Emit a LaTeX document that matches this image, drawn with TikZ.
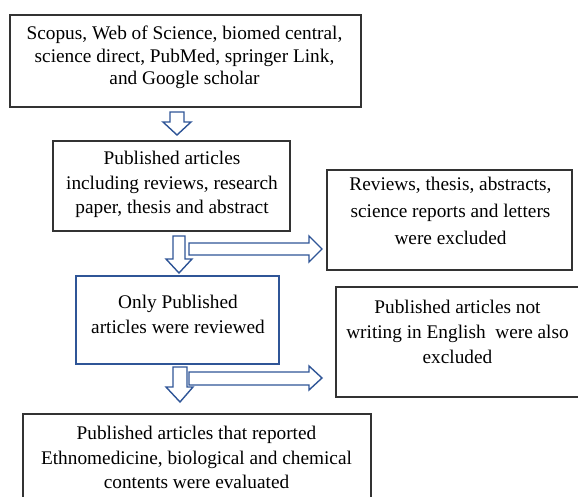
\documentclass[tikz,border=0pt]{standalone}
\usepackage{fontspec}
\setmainfont{Liberation Serif}
\usepackage{xcolor}

\definecolor{arrowblue}{HTML}{2F5597}
\definecolor{boxgray}{HTML}{333333}

\tikzset{
    box/.style={draw=boxgray, line width=1.3pt, fill=white},
    bluebox/.style={draw=arrowblue, line width=1.8pt, fill=white},
    txt/.style={align=center, inner sep=0pt, font=\fontsize{19.3}{#1}\selectfont},
    blockarrow/.style={draw=arrowblue, line width=1.4pt, fill=white, line join=miter}
}

\begin{document}
\begin{tikzpicture}[x=1pt, y=-1pt]
    \useasboundingbox (0,0) rectangle (578,497);
    \clip (0,0) rectangle (578,497);

%____________________________________________________________________________________________________
    \node[box, minimum width=351, minimum height=92] (sources) at (185.5,61) {};
    \node[txt=22.5] (sourcestxt) at (184.5,57.5) {Scopus, Web of Science, biomed central,\\science direct, PubMed, springer Link,\\and Google scholar};

    \draw[blockarrow] (170,112) -- (184,112) -- (184,122) -- (191,122) -- (177,135) -- (163,122) -- (170,122) -- cycle;

%____________________________________________________________________________________________________
    \node[box, minimum width=237, minimum height=90] (published) at (171.5,186) {};
    \node[txt=24.5] (publishedtxt) at (172,184.5) {Published articles\\including reviews, research\\paper, thesis and abstract};

    \draw[blockarrow] (173,236) -- (185,236) -- (185,259) -- (192,259) -- (179,273) -- (166,259) -- (173,259) -- cycle;
    \draw[blockarrow] (189,243) -- (309,243) -- (309,236) -- (322,249) -- (309,262) -- (309,255) -- (189,255) -- cycle;

    \node[box, minimum width=245, minimum height=100] (excluded) at (449.5,220) {};
    \node[txt=27] (excludedtxt) at (450.5,210.5) {Reviews, thesis, abstracts,\\science reports and letters\\were excluded};

%____________________________________________________________________________________________________
    \node[bluebox, minimum width=203, minimum height=88] (reviewed) at (177.5,320) {};
    \node[txt=25] (reviewedtxt) at (178,314.5) {Only Published\\articles were reviewed};

    \draw[blockarrow] (173,367) -- (187,367) -- (187,387) -- (193,387) -- (180,402) -- (166,387) -- (173,387) -- cycle;
    \draw[blockarrow] (189,372) -- (309,372) -- (309,366) -- (322,378) -- (309,390) -- (309,385) -- (189,385) -- cycle;

    \node[box, minimum width=264, minimum height=110] (english) at (468,342) {};
    \node[txt=25] (englishtxt) at (457.5,332) {Published articles not\\writing in English\ \ were also\\excluded};

%____________________________________________________________________________________________________
    \node[box, minimum width=348, minimum height=116] (evaluated) at (197,472) {};
    \node[txt=24.5] (evaluatedtxt) at (196.5,457.5) {Published articles that reported\\Ethnomedicine, biological and chemical\\contents were evaluated};
\end{tikzpicture}
\end{document}
